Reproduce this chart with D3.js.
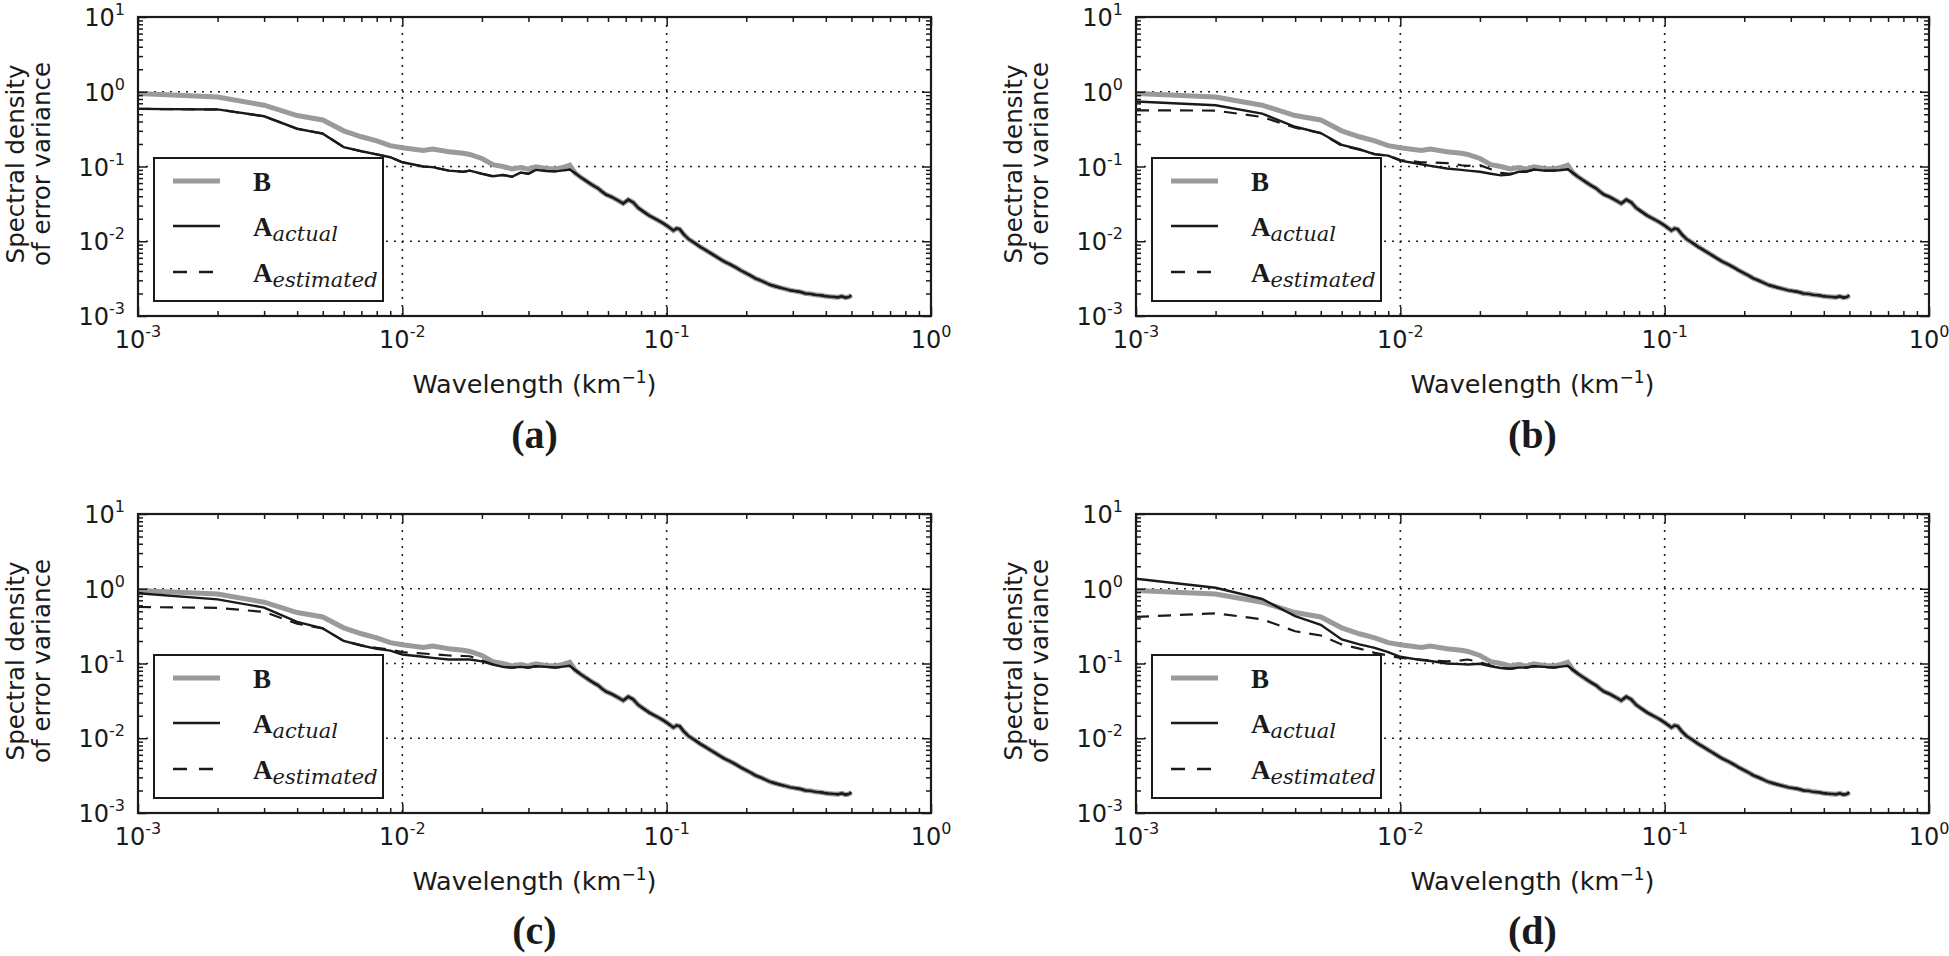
<!DOCTYPE html>
<html>
<head>
<meta charset="utf-8">
<script src="https://cdn.jsdelivr.net/npm/d3@7/dist/d3.min.js"></script>
<style>
  body { margin: 0; background: #fff; }
  text { fill: #1a1a1a; }
</style>
</head>
<body>
<div id="vis"></div>
<script>
var W = 1949, H = 956,
    pw = 793, ph = 299,
    lefts = [138, 1136],
    tops = [17, 514],
    xTitleDy = [77, 77],
    labelDy = [132, 131];

// wavenumbers (km^-1) of the low-frequency part
var kLow = [0.001, 0.002, 0.003, 0.004, 0.005, 0.006, 0.007, 0.008, 0.009, 0.010,
            0.012, 0.013, 0.015, 0.017, 0.018, 0.020, 0.022, 0.024, 0.026, 0.028,
            0.030, 0.032, 0.035, 0.038, 0.040, 0.043];

// background error B (same in every panel)
var bLow = [0.95, 0.85, 0.66, 0.48, 0.42, 0.30, 0.25, 0.22, 0.19, 0.178,
            0.164, 0.171, 0.158, 0.150, 0.145, 0.128, 0.106, 0.100, 0.093, 0.097,
            0.092, 0.099, 0.094, 0.093, 0.096, 0.104];

// A actual / A estimated per panel
var actA = [0.59, 0.58, 0.47, 0.32, 0.275, 0.182, 0.160, 0.145, 0.133, 0.114,
            0.100, 0.098, 0.088, 0.085, 0.088, 0.080, 0.074, 0.077, 0.073, 0.083,
            0.080, 0.090, 0.087, 0.086, 0.088, 0.091];
var estA = actA;

var actB = [0.74, 0.66, 0.51, 0.34, 0.28, 0.195, 0.170, 0.145, 0.140, 0.120,
            0.107, 0.102, 0.094, 0.090, 0.088, 0.085, 0.080, 0.076, 0.078, 0.085,
            0.085, 0.091, 0.088, 0.088, 0.089, 0.092];
var estB = [0.565, 0.56, 0.46, 0.33, 0.28, 0.190, 0.168, 0.147, 0.140, 0.122,
            0.114, 0.113, 0.111, 0.104, 0.102, 0.104, 0.092, 0.082, 0.080, 0.085,
            0.086, 0.091, 0.088, 0.088, 0.089, 0.092];

var actC = [0.87, 0.72, 0.56, 0.36, 0.295, 0.200, 0.174, 0.157, 0.149, 0.132,
            0.123, 0.119, 0.113, 0.113, 0.113, 0.107, 0.097, 0.090, 0.088, 0.090,
            0.088, 0.092, 0.090, 0.088, 0.090, 0.093];
var estC = [0.57, 0.555, 0.49, 0.34, 0.295, 0.200, 0.175, 0.162, 0.154, 0.142,
            0.136, 0.133, 0.128, 0.126, 0.125, 0.110, 0.097, 0.090, 0.088, 0.090,
            0.088, 0.092, 0.090, 0.088, 0.090, 0.093];

var actD = [1.36, 1.03, 0.73, 0.43, 0.33, 0.210, 0.180, 0.162, 0.142, 0.123,
            0.111, 0.108, 0.100, 0.098, 0.097, 0.099, 0.092, 0.087, 0.085, 0.088,
            0.088, 0.092, 0.090, 0.088, 0.090, 0.093];
var estD = [0.42, 0.47, 0.39, 0.27, 0.237, 0.180, 0.158, 0.139, 0.128, 0.119,
            0.113, 0.110, 0.107, 0.110, 0.113, 0.104, 0.094, 0.088, 0.085, 0.088,
            0.088, 0.092, 0.090, 0.088, 0.090, 0.093];

// high-frequency tail, shared by all curves
var kTail = [0.045, 0.047, 0.049, 0.051, 0.053, 0.055, 0.057, 0.059, 0.062, 0.0646,
             0.0665, 0.0685, 0.0716, 0.0748, 0.078, 0.0816, 0.086, 0.0917, 0.096, 0.100,
             0.103, 0.106, 0.109, 0.112, 0.116, 0.121, 0.128, 0.134, 0.138, 0.145,
             0.152, 0.159, 0.166, 0.174, 0.182, 0.190, 0.198, 0.207, 0.216, 0.226,
             0.236, 0.247, 0.257, 0.268, 0.280, 0.294, 0.307, 0.320, 0.335, 0.350,
             0.365, 0.380, 0.395, 0.410, 0.427, 0.445, 0.460, 0.475, 0.490, 0.500];
var yTail = [0.082, 0.073, 0.066, 0.060, 0.055, 0.051, 0.046, 0.042, 0.039, 0.036,
             0.034, 0.032, 0.036, 0.033, 0.028, 0.025, 0.022, 0.0195, 0.0178, 0.0162,
             0.0150, 0.0139, 0.0148, 0.0145, 0.0124, 0.0107, 0.0094, 0.0084, 0.0079, 0.0071,
             0.0064, 0.0058, 0.0053, 0.0049, 0.0045, 0.0041, 0.0038, 0.0035, 0.0032, 0.0030,
             0.0028, 0.0026, 0.0025, 0.0024, 0.0023, 0.0022, 0.00215, 0.0021, 0.0020, 0.00198,
             0.00192, 0.0019, 0.00185, 0.00182, 0.0018, 0.00178, 0.00183, 0.00176, 0.0018, 0.0019];

var xMajor = [1e-3, 1e-2, 1e-1, 1e0],
    yMajor = [1e-3, 1e-2, 1e-1, 1e0, 1e1];

var panels = [
  {label: "(a)", col: 0, row: 0, act: actA, est: estA},
  {label: "(b)", col: 1, row: 0, act: actB, est: estB},
  {label: "(c)", col: 0, row: 1, act: actC, est: estC},
  {label: "(d)", col: 1, row: 1, act: actD, est: estD}
];

function series(low) {
  return kLow.map(function(k, i) { return [k, low[i]]; })
    .concat(kTail.map(function(k, i) { return [k, yTail[i]]; }));
}

function minors(lo, hi) {
  var out = [];
  for (var e = lo; e < hi; e++)
    for (var m = 2; m < 10; m++) out.push(m * Math.pow(10, e));
  return out;
}

function expo(d) {
  var e = Math.round(Math.log10(d));
  return e < 0 ? "-" + (-e) : String(e);
}

var x = d3.scaleLog().domain([1e-3, 1]).range([0, pw]),
    y = d3.scaleLog().domain([1e-3, 10]).range([ph, 0]);

var line = d3.line()
    .x(function(d) { return x(d[0]); })
    .y(function(d) { return y(d[1]); });

var svg = d3.select("#vis").append("svg")
    .attr("width", W)
    .attr("height", H);

svg.append("defs").append("clipPath").attr("id", "clip")
  .append("rect").attr("width", pw).attr("height", ph);

function pow10(sel, e) {
  sel.append("tspan").text("10");
  sel.append("tspan").attr("dy", -11).attr("font-size", 16).text(e);
}

panels.forEach(function(p) {
  var g = svg.append("g")
      .attr("transform", "translate(" + lefts[p.col] + "," + tops[p.row] + ")");

  // dotted grid
  g.selectAll(".gx").data(xMajor.slice(1, -1)).enter().append("line")
      .attr("x1", x).attr("x2", x).attr("y1", 0).attr("y2", ph)
      .attr("stroke", "#222").attr("stroke-width", 1.6).attr("stroke-dasharray", "2,6");
  g.selectAll(".gy").data(yMajor.slice(1, -1)).enter().append("line")
      .attr("y1", y).attr("y2", y).attr("x1", 0).attr("x2", pw)
      .attr("stroke", "#222").attr("stroke-width", 1.6).attr("stroke-dasharray", "2,6");

  // curves
  var cg = g.append("g").attr("clip-path", "url(#clip)");
  cg.append("path").attr("d", line(series(bLow)))
      .attr("fill", "none").attr("stroke", "#9a9a9a").attr("stroke-width", 5);
  cg.append("path").attr("d", line(series(p.est)))
      .attr("fill", "none").attr("stroke", "#1a1a1a").attr("stroke-width", 2.2)
      .attr("stroke-dasharray", "13,9");
  cg.append("path").attr("d", line(series(p.act)))
      .attr("fill", "none").attr("stroke", "#1a1a1a").attr("stroke-width", 2.4);

  // ticks on all four sides, pointing inwards
  var axes = [
    [d3.axisBottom(x), "translate(0," + ph + ")", xMajor, minors(-3, 0)],
    [d3.axisTop(x), null, xMajor, minors(-3, 0)],
    [d3.axisLeft(y), null, yMajor, minors(-3, 1)],
    [d3.axisRight(y), "translate(" + pw + ",0)", yMajor, minors(-3, 1)]
  ];
  axes.forEach(function(a) {
    var maj = g.append("g").attr("transform", a[1])
        .call(a[0].tickValues(a[2]).tickSize(-9).tickFormat(""));
    var mi = g.append("g").attr("transform", a[1])
        .call(a[0].tickValues(a[3]).tickSize(-5).tickFormat(""));
    [maj, mi].forEach(function(s) {
      s.select(".domain").remove();
      s.selectAll("line").attr("stroke", "#1a1a1a").attr("stroke-width", 1.5);
    });
  });

  // frame
  g.append("rect").attr("width", pw).attr("height", ph)
      .attr("fill", "none").attr("stroke", "#1a1a1a").attr("stroke-width", 2.2);

  // tick labels
  g.selectAll(".xl").data(xMajor).enter().append("text")
      .attr("x", x).attr("y", ph + 32)
      .attr("text-anchor", "middle")
      .attr("font-family", "DejaVu Sans").attr("font-size", 24)
      .each(function(d) { pow10(d3.select(this), expo(d)); });
  g.selectAll(".yl").data(yMajor).enter().append("text")
      .attr("x", -13).attr("y", function(d) { return y(d) + 9; })
      .attr("text-anchor", "end")
      .attr("font-family", "DejaVu Sans").attr("font-size", 24)
      .each(function(d) { pow10(d3.select(this), expo(d)); });

  // axis titles
  var xt = g.append("text")
      .attr("x", pw / 2).attr("y", ph + xTitleDy[p.row])
      .attr("text-anchor", "middle")
      .attr("font-family", "DejaVu Sans").attr("font-size", 25.5);
  xt.append("tspan").text("Wavelength (km");
  xt.append("tspan").attr("dy", -10).attr("font-size", 17).text("\u22121");
  xt.append("tspan").attr("dy", 10).text(")");

  var yt = g.append("text")
      .attr("transform", "translate(-114," + 147 + ") rotate(-90)")
      .attr("text-anchor", "middle")
      .attr("font-family", "DejaVu Sans").attr("font-size", 24.5);
  yt.append("tspan").attr("x", 0).attr("dy", 0).text("Spectral density");
  yt.append("tspan").attr("x", 0).attr("dy", 26).text("of error variance");

  // panel label
  g.append("text")
      .attr("x", pw / 2).attr("y", ph + labelDy[p.row])
      .attr("text-anchor", "middle")
      .attr("font-family", "Liberation Serif").attr("font-weight", "bold").attr("font-size", 40)
      .text(p.label);

  // legend
  var lg = g.append("g").attr("transform", "translate(16,141)");
  lg.append("rect").attr("width", 229).attr("height", 143)
      .attr("fill", "#fff").attr("stroke", "#1a1a1a").attr("stroke-width", 2);
  var items = [
    {name: "B", sub: null, color: "#9a9a9a", width: 5, dash: null, y: 23},
    {name: "A", sub: "actual", color: "#1a1a1a", width: 2.4, dash: null, y: 68},
    {name: "A", sub: "estimated", color: "#1a1a1a", width: 2.4, dash: "14,12", y: 114}
  ];
  items.forEach(function(it) {
    lg.append("line")
        .attr("x1", 19).attr("x2", 66).attr("y1", it.y).attr("y2", it.y)
        .attr("stroke", it.color).attr("stroke-width", it.width)
        .attr("stroke-dasharray", it.dash);
    var t = lg.append("text")
        .attr("x", 99).attr("y", it.y + 10)
        .attr("font-family", "Liberation Serif").attr("font-size", 27);
    t.append("tspan").attr("font-weight", "bold").text(it.name);
    if (it.sub)
      t.append("tspan").attr("dy", 5).attr("font-family", "DejaVu Serif")
          .attr("font-style", "italic").attr("font-size", 21).text(it.sub);
  });
});
</script>
</body>
</html>
